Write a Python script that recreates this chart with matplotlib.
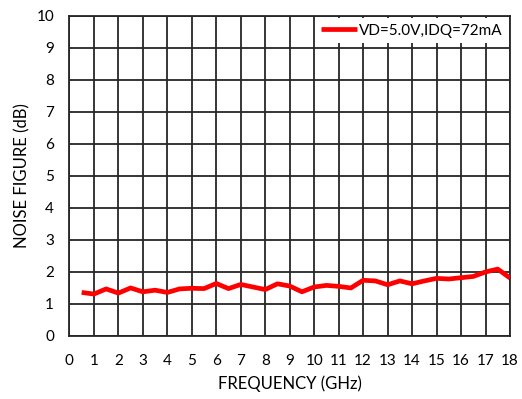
import matplotlib
matplotlib.use("Agg")
import matplotlib.pyplot as plt

plt.rcParams['font.family'] = ['Lato', 'DejaVu Sans']

freq_ghz = [0.5, 1.0, 1.5, 2.0, 2.5, 3.0, 3.5, 4.0, 4.5, 5.0, 5.5, 6.0, 6.5, 7.0,
            7.5, 8.0, 8.5, 9.0, 9.5, 10.0, 10.5, 11.0, 11.5, 12.0, 12.5, 13.0,
            13.5, 14.0, 14.5, 15.0, 15.5, 16.0, 16.5, 17.0, 17.5, 18.0]
noise_figure_db = [1.36, 1.31, 1.47, 1.34, 1.50, 1.38, 1.43, 1.36, 1.47, 1.49,
                   1.48, 1.64, 1.48, 1.61, 1.53, 1.45, 1.63, 1.56, 1.38, 1.53,
                   1.58, 1.55, 1.50, 1.74, 1.72, 1.60, 1.72, 1.63, 1.72, 1.80,
                   1.78, 1.82, 1.86, 2.00, 2.09, 1.81]
series_label = "VD=5.0V,IDQ=72mA"
x_ticks = list(range(0, 19))
y_ticks = list(range(0, 11))

fig = plt.figure(figsize=(5.22, 3.99), dpi=100)
ax = fig.add_axes([0.133, 0.158, 0.844, 0.802])

grid_color = '#262626'
ax.plot(freq_ghz, noise_figure_db, color='#ff0000', linewidth=3.4,
        solid_joinstyle='round', solid_capstyle='butt', label=series_label, zorder=3)

ax.set_xlim(0, 18)
ax.set_ylim(0, 10)
ax.set_xticks(x_ticks)
ax.set_yticks(y_ticks)
ax.grid(True, color=grid_color, linewidth=1.3)
ax.set_axisbelow(True)
for s in ax.spines.values():
    s.set_color(grid_color)
    s.set_linewidth(1.3)
ax.tick_params(axis='x', length=0, labelsize=11, pad=13, colors='black')
ax.tick_params(axis='y', length=0, labelsize=11, pad=11, colors='black')

ax.set_xlabel("FREQUENCY (GHz)", fontsize=12, labelpad=5)
ax.set_ylabel("NOISE FIGURE (dB)", fontsize=12, labelpad=4)

leg = ax.legend(loc='upper right', frameon=True, fontsize=11, handlelength=2.4,
                borderaxespad=0.15, handletextpad=0.1, borderpad=0.35)
leg.get_frame().set_edgecolor('none')
leg.get_frame().set_facecolor('white')
leg.get_frame().set_alpha(1.0)
leg.get_frame().set_boxstyle('square', pad=0)

fig.savefig("out.png", dpi=100)
